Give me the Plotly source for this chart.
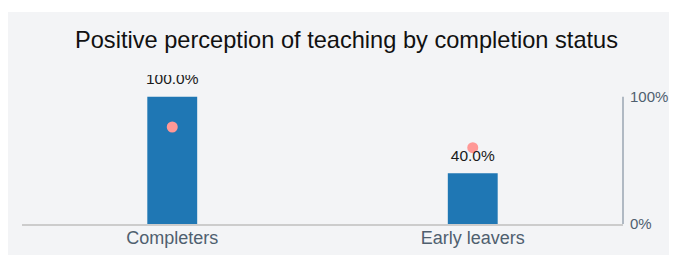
import plotly.graph_objects as go

categories = ["Completers", "Early leavers"]
bar_values = [100.0, 40.0]
dot_values = [76.3, 60.0]
tick_vals = [0, 100]
tick_text = ["0%", "100%"]
title_text = "Positive perception of teaching by completion status"

FONT = "Liberation Sans, Arial, Helvetica, sans-serif"

fig = go.Figure()
fig.add_trace(go.Bar(
    x=categories, y=bar_values,
    marker=dict(color="#1f77b4", line=dict(width=0)),
    showlegend=False, hoverinfo="skip",
))
fig.add_trace(go.Scatter(
    x=categories, y=dot_values, mode="markers",
    marker=dict(color="#ff9896", size=11),
    showlegend=False, hoverinfo="skip",
))
fig.add_trace(go.Scatter(
    x=categories, y=bar_values, mode="markers+text",
    marker=dict(size=12, opacity=0),
    text=[f"{v:.1f}%" for v in bar_values], textposition="top center",
    textfont=dict(family=FONT, size=15.5, color="#1a1a1a"),
    cliponaxis=True, showlegend=False, hoverinfo="skip",
))

fig.update_layout(
    width=677, height=255,
    margin=dict(l=14, r=62, t=67, b=39, pad=0),
    paper_bgcolor="#f3f4f6", plot_bgcolor="rgba(0,0,0,0)",
    bargap=0.834,
    title=dict(text=title_text, x=0.5, xanchor="center", xref="container",
               y=1 - 32 / 255, yanchor="middle", yref="container",
               font=dict(family=FONT, size=23.6, color="#111111")),
    font=dict(family=FONT),
    xaxis=dict(type="category", showgrid=False, showline=True, linecolor="#cccccc",
               linewidth=1.5, ticks="", tickfont=dict(family=FONT, size=18, color="#4f5f6f"),
               zeroline=False, ticklabelstandoff=-3),
    yaxis=dict(side="right", range=[0, 117.2], tickvals=tick_vals, ticktext=tick_text,
               showgrid=False, showline=False, zeroline=False, ticks="",
               ticklabelstandoff=6,
               tickfont=dict(family=FONT, size=15, color="#4f5f6f")),
    shapes=[
        dict(type="line", xref="paper", yref="y", x0=1, x1=1, y0=0, y1=100,
             line=dict(color="#9aa6b2", width=1.5), layer="above"),
        dict(type="rect", xref="paper", yref="paper", x0=-0.1, x1=1.2,
             y0=1 + 63 / 149, y1=1 + 80 / 149, fillcolor="white",
             line=dict(width=0), layer="below"),
    ],
)

fig.write_html("out.html")
